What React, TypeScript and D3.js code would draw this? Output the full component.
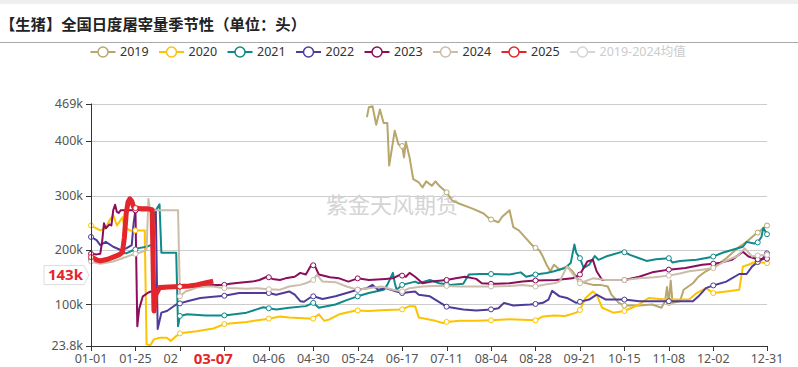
import React from 'react';
import * as d3 from 'd3';

// daily hog slaughter, seasonal view (unit: head, shown in k)
// x = day index of a leap year (0 = 01-01, 365 = 12-31)

const TITLE = '【生猪】全国日度屠宰量季节性（单位：头）';
const WATERMARK = '紫金天风期货';

const X_TICKS = [0, 24, 48, 72, 96, 120, 144, 168, 192, 216, 240, 264, 288, 312, 336, 365];
const X_TICK_LABELS = ['01-01', '01-25', '02-18', '03-13', '04-06', '04-30', '05-24', '06-17',
  '07-11', '08-04', '08-28', '09-21', '10-15', '11-08', '12-02', '12-31'];
const Y_TICKS = [23.8, 100, 200, 300, 400, 469];
const Y_TICK_LABELS = ['23.8k', '100k', '200k', '300k', '400k', '469k'];

const POINTER_DAY = 66;
const POINTER_DAY_LABEL = '03-07';
const POINTER_VALUE = 143;
const POINTER_VALUE_LABEL = '143k';

const S2019: [number, number][] = [[149, 444], [150, 462], [152, 464], [154, 430], [156, 458], [158, 433], [160, 433],
  [161, 355], [164, 419], [166, 394], [168, 391], [169, 370], [170, 399], [172, 370], [174, 330], [177, 324],
  [179, 315], [181, 326], [184, 318], [186, 326], [188, 318], [192, 306], [195, 291], [199, 285], [206, 276],
  [212, 267], [215, 258], [216, 256], [220, 251], [222, 261], [226, 273], [228, 242], [231, 236], [235, 221],
  [239, 206], [240, 204], [242, 200], [244, 188], [246, 173], [248, 161], [250, 173], [253, 164], [257, 170],
  [260, 161], [264, 142], [271, 136], [275, 136], [279, 133], [281, 118], [285, 103], [288, 98], [296, 98],
  [303, 100], [308, 94], [310, 106], [311, 132], [312, 103], [313, 144], [314, 103], [318, 106], [320, 127],
  [325, 139], [328, 151], [332, 161], [336, 168], [337, 170], [343, 185], [350, 206], [354, 215], [359, 230],
  [360, 232], [365, 245]];

const S2020: [number, number][] = [[0, 245], [5, 236], [8, 240], [10, 255], [12, 264], [14, 245], [17, 260], [18, 242],
  [21, 236], [24, 236], [29, 236], [30, 27], [32, 25], [34, 36], [37, 39], [41, 39], [43, 33], [46, 42], [48, 47],
  [57, 51], [66, 56], [72, 64], [84, 68], [96, 74], [102, 78], [107, 76], [120, 74], [123, 82], [126, 70], [129, 73],
  [134, 82], [143, 89], [144, 89], [150, 88], [159, 90], [168, 91], [172, 97], [175, 97], [177, 76], [186, 70],
  [190, 66], [192, 68], [199, 70], [208, 70], [216, 71], [226, 73], [240, 71], [244, 78], [250, 80], [256, 79],
  [262, 85], [264, 90], [267, 112], [271, 124], [273, 118], [276, 94], [282, 85], [288, 88], [296, 100], [301, 112],
  [310, 109], [318, 109], [323, 109], [327, 121], [332, 130], [336, 121], [343, 124], [350, 127], [352, 170],
  [355, 173], [359, 179], [360, 178], [365, 176]];

const S2021: [number, number][] = [[0, 182], [5, 179], [12, 188], [16, 195], [19, 194], [23, 200], [24, 201], [25, 203],
  [30, 206], [33, 210], [34, 260], [35, 273], [37, 284], [38, 195], [42, 195], [46, 195], [47, 60], [48, 79], [52, 82],
  [62, 80], [72, 80], [84, 85], [93, 95], [96, 93], [100, 91], [107, 94], [116, 97], [120, 103], [123, 94], [132, 100],
  [138, 108], [144, 115], [150, 121], [158, 127], [160, 136], [163, 158], [164, 140], [165, 127], [168, 136],
  [175, 142], [177, 139], [183, 145], [188, 139], [192, 137], [194, 136], [201, 138], [204, 155], [210, 156],
  [216, 156], [226, 155], [232, 159], [235, 151], [240, 155], [246, 158], [250, 161], [256, 167], [259, 176],
  [261, 210], [262, 195], [264, 185], [266, 167], [269, 173], [272, 189], [274, 182], [278, 188], [287, 197],
  [288, 196], [291, 191], [296, 185], [300, 180], [305, 183], [312, 185], [314, 177], [318, 180], [327, 182],
  [335, 187], [336, 188], [341, 195], [346, 200], [352, 206], [354, 215], [358, 212], [360, 214], [362, 224],
  [363, 241], [365, 229]];

const S2022: [number, number][] = [[0, 224], [3, 218], [5, 209], [8, 215], [12, 206], [16, 200], [19, 203], [22, 209],
  [23, 249], [24, 273], [28, 273], [32, 273], [35, 273], [36, 55], [38, 85], [41, 88], [46, 100], [48, 102], [52, 106],
  [59, 112], [66, 114], [72, 116], [80, 121], [90, 121], [96, 121], [100, 118], [107, 124], [110, 118], [113, 106],
  [115, 105], [118, 112], [120, 115], [125, 110], [132, 115], [138, 121], [144, 127], [149, 130], [152, 136],
  [155, 127], [159, 130], [165, 124], [168, 121], [175, 124], [177, 118], [183, 115], [192, 96], [201, 91], [208, 89],
  [216, 91], [220, 93], [223, 103], [228, 98], [237, 100], [240, 101], [244, 103], [247, 109], [249, 125], [253, 115],
  [257, 112], [262, 103], [264, 105], [269, 109], [273, 118], [278, 109], [288, 109], [296, 106], [305, 106],
  [312, 106], [325, 106], [328, 115], [332, 130], [336, 135], [343, 142], [350, 156], [354, 156], [357, 170],
  [360, 178], [362, 182], [365, 194]];

const S2023: [number, number][] = [[0, 193], [3, 192], [5, 193], [6, 215], [7, 249], [8, 240], [10, 247], [11, 245],
  [12, 273], [13, 283], [14, 270], [15, 268], [16, 273], [20, 273], [24, 273], [25, 60], [26, 92], [28, 115], [31, 122],
  [35, 127], [40, 130], [43, 132], [48, 133], [53, 133], [58, 134], [62, 135], [66, 136], [72, 136], [75, 138],
  [80, 140], [87, 142], [91, 145], [95, 151], [96, 150], [98, 147], [102, 145], [105, 148], [110, 151], [113, 158],
  [116, 155], [119, 173], [120, 172], [121, 170], [123, 155], [129, 150], [134, 148], [139, 142], [144, 148],
  [150, 145], [159, 147], [163, 148], [167, 155], [168, 153], [170, 151], [172, 158], [175, 151], [179, 139],
  [184, 142], [192, 145], [197, 148], [202, 151], [208, 147], [211, 139], [216, 138], [219, 138], [226, 139],
  [233, 142], [240, 144], [251, 145], [260, 148], [264, 155], [268, 179], [271, 182], [273, 161], [276, 145],
  [288, 145], [296, 151], [303, 159], [312, 164], [321, 167], [330, 173], [336, 175], [339, 176], [346, 182],
  [352, 197], [355, 188], [360, 183], [365, 184]];

const S2024: [number, number][] = [[0, 179], [3, 176], [5, 175], [9, 177], [12, 179], [17, 185], [22, 191], [24, 193],
  [27, 196], [30, 200], [31, 294], [32, 273], [40, 273], [47, 273], [48, 115], [51, 124], [54, 127], [57, 131],
  [62, 133], [66, 133], [72, 130], [78, 130], [84, 129], [90, 130], [96, 128], [102, 127], [107, 133], [113, 136],
  [116, 139], [120, 145], [122, 155], [125, 142], [132, 141], [138, 133], [144, 127], [150, 130], [157, 133],
  [163, 127], [168, 124], [172, 130], [179, 133], [185, 134], [192, 134], [199, 133], [208, 133], [216, 133],
  [226, 134], [233, 136], [240, 133], [246, 137], [250, 139], [253, 142], [257, 170], [259, 161], [264, 139],
  [271, 148], [278, 145], [288, 145], [296, 148], [304, 150], [312, 153], [318, 157], [323, 161], [330, 164],
  [336, 167], [342, 179], [349, 189], [353, 203], [357, 188], [360, 190], [365, 191]];

const S2025: [number, number][] = [[0, 187], [3, 182], [5, 180], [9, 183], [12, 187], [15, 191], [17, 196], [18, 222],
  [19, 267], [20, 288], [21, 294], [22, 290], [23, 279], [24, 277], [27, 276], [30, 276], [33, 274], [34, 88],
  [35, 118], [37, 131], [42, 132], [48, 133], [53, 134], [57, 136], [61, 139], [66, 143]];

const SERIES_NAMES = ['2019', '2020', '2021', '2022', '2023', '2024', '2025'];
const SERIES_DATA = [S2019, S2020, S2021, S2022, S2023, S2024, S2025];
const SERIES_COLORS = ['#b7a76c', '#fcc300', '#10898b', '#4f3b99', '#8b0d5c', '#cbbcab', '#e3262c'];
const MEAN_NAME = '2019-2024均值';

const FONT = '"Noto Sans", "Noto Sans CJK SC", sans-serif';
const CJK = '"Noto Sans CJK SC", sans-serif';

export default function App() {
  const W = 798, H = 367;
  const left = 91, right = 767, bottom = 346, top = 103.5;

  const x = d3.scaleLinear().domain([0, 365]).range([left, right]);
  const y = d3.scaleLinear().domain([Y_TICKS[0], Y_TICKS[Y_TICKS.length - 1]]).range([bottom, top]);
  const line = d3.line<[number, number]>().x(d => x(d[0])).y(d => y(d[1]));

  const px = x(POINTER_DAY);
  const py = y(POINTER_VALUE) - 6;
  const boxL = px - 35, boxR = px + 35;

  return (
    <svg width={W} height={H} style={{ position: 'absolute', left: 0, top: 0, background: '#fff' }}>
      <defs>
        {/* tick labels that the pointer label box hides */}
        <clipPath id='under-pointer'>
          <rect x={0} y={346} width={boxL} height={21} />
          <rect x={boxR} y={346} width={W - boxR} height={21} />
        </clipPath>
      </defs>
      <rect x={0} y={0} width={W} height={4} fill='#efefef' />
      <text x={0} y={30} fontFamily={CJK} fontWeight='bold' fontSize={15.3} fill='#222'>{TITLE}</text>
      <line x1={0} x2={W} y1={42.5} y2={42.5} stroke='#aaa' strokeWidth={1} />

      {/* legend */}
      {SERIES_NAMES.concat([MEAN_NAME]).map((name, i) => {
        const cx = 103 + i * 68.5;
        const isMean = i === SERIES_NAMES.length;
        const c = isMean ? '#d6d6d6' : SERIES_COLORS[i];
        return (
          <g key={name}>
            <line x1={cx - 12.5} x2={cx + 12.5} y1={52} y2={52} stroke={c} strokeWidth={2} />
            <circle cx={cx} cy={52} r={5} fill='#fff' stroke={c} strokeWidth={1.5} />
            <text x={cx + 17} y={52} dy='0.35em' fontFamily={FONT} fontSize={12.5}
              fill={isMean ? '#ccc' : '#333'}>{name}</text>
          </g>
        );
      })}

      {/* grid */}
      {Y_TICKS.slice(1).map(t => (
        <line key={t} x1={left} x2={right} y1={Math.round(y(t)) + 0.5} y2={Math.round(y(t)) + 0.5}
          stroke='#ccc' strokeWidth={1} />
      ))}

      <text x={392} y={205} dy='0.35em' textAnchor='middle' fontFamily={CJK} fontSize={22}
        fill='#d4d4d4'>{WATERMARK}</text>

      {/* series */}
      {SERIES_DATA.map((data, i) => (
        <path key={SERIES_NAMES[i]} d={line(data) || ''} fill='none' stroke={SERIES_COLORS[i]}
          strokeWidth={SERIES_NAMES[i] === '2025' ? 5 : 2} strokeLinejoin='round' />
      ))}
      {SERIES_DATA.map((data, i) => (
        <g key={'m' + SERIES_NAMES[i]}>
          {data.filter(d => d[0] % 24 === 0 || d[0] === 365).map(d => (
            <circle key={d[0]} cx={x(d[0])} cy={y(d[1])} r={2.5} fill='#fff'
              stroke={SERIES_COLORS[i]} strokeWidth={1} />
          ))}
        </g>
      ))}

      {/* y axis */}
      <line x1={left + 0.5} x2={left + 0.5} y1={top} y2={bottom} stroke='#333' />
      {Y_TICKS.map((t, i) => (
        <g key={t}>
          <line x1={left - 5} x2={left} y1={Math.round(y(t)) + 0.5} y2={Math.round(y(t)) + 0.5} stroke='#333' />
          <text x={left - 8} y={y(t)} dy='0.35em' textAnchor='end' fontFamily={FONT} fontSize={12.5}
            fill='#555'>{Y_TICK_LABELS[i]}</text>
        </g>
      ))}

      {/* x axis */}
      <line x1={left} x2={right + 1} y1={bottom + 0.5} y2={bottom + 0.5} stroke='#333' />
      {X_TICKS.map((t, i) => (
        <line key={t} x1={Math.round(x(t)) + 0.5} x2={Math.round(x(t)) + 0.5} y1={bottom} y2={bottom + 5}
          stroke='#333' />
      ))}
      <g clipPath='url(#under-pointer)'>
        {X_TICKS.filter(t => Math.abs(x(t) - px) > 20).map(t => (
          <text key={t} x={x(t)} y={359} dy='0.35em' textAnchor='middle' fontFamily={FONT} fontSize={12.5}
            fill='#555'>{X_TICK_LABELS[X_TICKS.indexOf(t)]}</text>
        ))}
      </g>

      {/* axis pointer labels */}
      <text x={px} y={359} dy='0.35em' textAnchor='middle' fontFamily={FONT} fontWeight='bold'
        fontSize={15} fill='#e3262c'>{POINTER_DAY_LABEL}</text>

      <path d={`M44,${py - 9.5} H84 L89,${py} L84,${py + 9.5} H44 Z`} fill='#fff' stroke='#ddd' />
      <text x={83} y={py} dy='0.35em' textAnchor='end' fontFamily={FONT} fontWeight='bold'
        fontSize={15} fill='#e3262c'>{POINTER_VALUE_LABEL}</text>
    </svg>
  );
}
